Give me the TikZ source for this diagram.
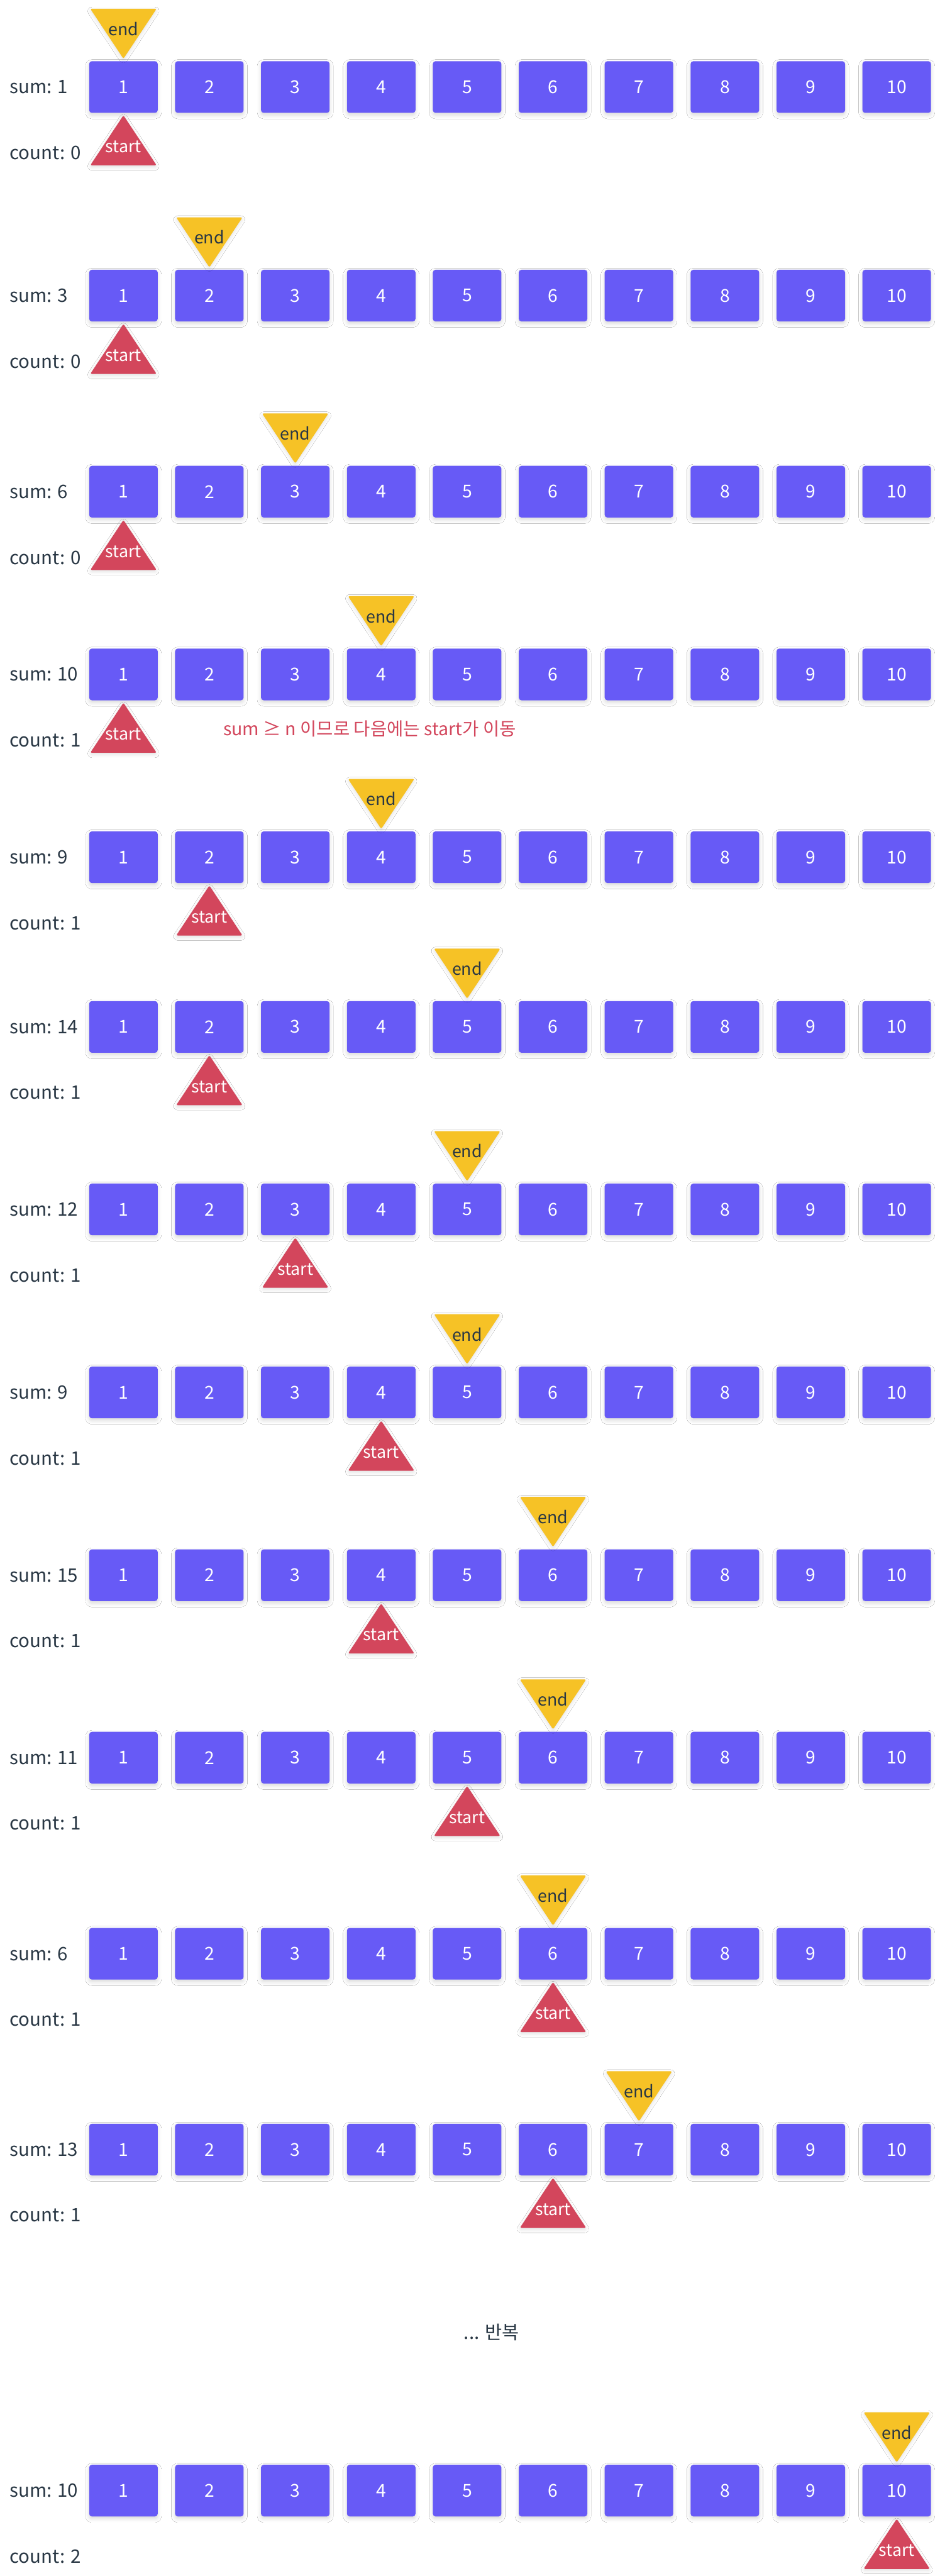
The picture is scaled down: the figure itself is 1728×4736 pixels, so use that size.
\documentclass[tikz,border=0pt]{standalone}
\usepackage{fontspec}
\setmainfont{Noto Sans CJK KR}
\usepackage{tikz}
\usetikzlibrary{positioning,calc,shadows.blur}
\definecolor{ink}{HTML}{293744}
\definecolor{cellblue}{HTML}{675AF6}
\definecolor{endgold}{HTML}{F6C226}
\definecolor{startred}{HTML}{D3465C}
\tikzset{
  %% nodes
  cell/.style     = {rounded corners=0.05cm, fill=cellblue, text=white,
                     minimum width=1.26cm, minimum height=0.95cm, inner sep=0pt,
                     font=\fontsize{9.3}{10}\selectfont,
                     blur shadow={shadow xshift=0pt, shadow yshift=-0.04cm,
                                  shadow blur radius=0.07cm, shadow opacity=15}},
  stat/.style     = {anchor=west, text=ink, inner sep=0pt,
                     font=\fontsize{9.7}{11}\selectfont},
  %% pointers
  endtri/.style   = {fill=endgold, rounded corners=0.03cm,
                     blur shadow={shadow xshift=0pt, shadow yshift=-0.03cm,
                                  shadow blur radius=0.06cm, shadow opacity=12}},
  starttri/.style = {fill=startred, rounded corners=0.03cm,
                     blur shadow={shadow xshift=0pt, shadow yshift=-0.03cm,
                                  shadow blur radius=0.06cm, shadow opacity=12}},
  endlbl/.style   = {text=ink, inner sep=0pt, font=\fontsize{8.8}{10}\selectfont},
  startlbl/.style = {text=white, inner sep=0pt, font=\fontsize{8.8}{10}\selectfont},
  %% annotations
  note/.style     = {text=startred, inner sep=0pt, font=\fontsize{9.4}{10}\selectfont},
}

\begin{document}
\begin{tikzpicture}[x=0.01cm, y=-0.01cm]
\fill[white] (0,0) rectangle (1728,4736);
\useasboundingbox (0,0) rectangle (1728,4736);

%% ============ one row per step: y / sum / count / end / start ============
\foreach \ry/\rsum/\rcnt/\re/\rs [count=\r] in {
    160/1/0/1/1, 543.5/3/0/2/1, 904/6/0/3/1, 1240/10/1/4/1,
    1576/9/1/4/2, 1888/14/1/5/2, 2223.5/12/1/5/3, 2560/9/1/5/4,
    2896/15/1/6/4, 3231.5/11/1/6/5, 3592/6/1/6/6, 3952/13/1/7/6,
    4579/10/2/10/10}{
  \node[stat] (sum\r) at (17,\ry) {sum: \rsum};
  \node[stat] (cnt\r) at (17,\ry+121) {count: \rcnt};
  \foreach \k in {1,...,10}
    \node[cell] (c\r-\k) at ({227+158*(\k-1)},\ry) {\k};
  \pgfmathsetmacro\ex{227+158*(\re-1)}
  \pgfmathsetmacro\sx{227+158*(\rs-1)}
  %% end pointer above, start pointer below
  \fill[endtri] (\ex-61,\ry-144) -- (\ex+61,\ry-144) -- (\ex,\ry-52) -- cycle;
  \node[endlbl] (e\r) at (\ex,\ry-107) {end};
  \fill[starttri] (\sx-61,\ry+144) -- (\sx+61,\ry+144) -- (\sx,\ry+52) -- cycle;
  \node[startlbl] (s\r) at (\sx,\ry+110) {start};
}

%% ============ annotations ============
\node[note, anchor=west] (move) at (410,1340) {sum ≥ n 이므로 다음에는 start가 이동};
\node[stat, anchor=center] (repeat) at (904,4288) {... 반복};

\end{tikzpicture}
\end{document}
